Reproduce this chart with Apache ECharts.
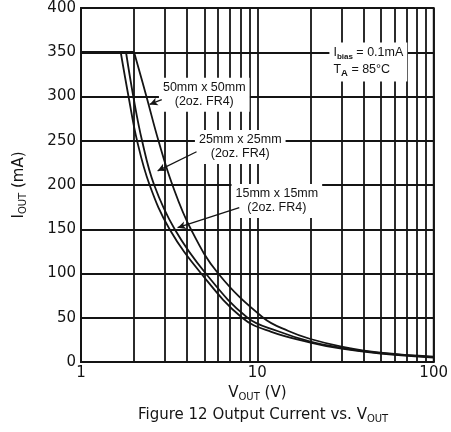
<!DOCTYPE html>
<html>
<head>
<meta charset="utf-8">
<script src="https://cdn.jsdelivr.net/npm/echarts@6/dist/echarts.min.js"></script>
<style>
  html, body { margin: 0; padding: 0; background: #fff; }
  #chart { width: 451px; height: 432px; }
</style>
</head>
<body>
<div id="chart"></div>
<script>
// Output current (mA) against output voltage (V) for three copper board sizes
const currentLimit = [[1, 350], [2.0, 350]];
const board15 = [[1.68, 350], [1.86, 300], [2.08, 250], [2.45, 200], [3.18, 150], [4.8, 100], [8.2, 50], [12, 34], [20, 22], [30, 15], [50, 9.5], [100, 5]];
const board25 = [[1.8, 350], [1.98, 300], [2.22, 250], [2.6, 200], [3.4, 150], [5.1, 100], [8.8, 50], [13, 35], [20, 23], [30, 16], [50, 10], [100, 5.5]];
const board50 = [[2.0, 350], [2.35, 300], [2.75, 250], [3.3, 200], [4.2, 150], [6.0, 100], [10.8, 50], [15, 35], [20, 26], [30, 17.5], [50, 10.5], [100, 6]];

// Axis ranges and the intermediate decade lines of the log grid
const xRange = [1, 100];
const yRange = [0, 400];
const yStep = 50;
const xMinorLines = [2, 3, 4, 5, 6, 7, 8, 9, 20, 30, 40, 50, 60, 70, 80, 90];

// Callout text anchors [V, mA] and their arrows [from, to]
const notes = [
  { at: [5.0, 302], text: '{t|50mm x 50mm}\n{t|(2oz. FR4)}', arrow: [[2.87, 296.5], [2.45, 291]] },
  { at: [8.0, 243], text: '{t|25mm x 25mm}\n{t|(2oz. FR4)}', arrow: [[4.52, 237.6], [2.72, 216]] },
  { at: [12.9, 182], text: '{t|15mm x 15mm}\n{t|(2oz. FR4)}', arrow: [[7.9, 174.4], [3.53, 151.8]] }
];
const conditions = { at: [27, 339], text: '{t|I}{sb|bias}{t| = 0.1mA}\n{t|T}{sa|A}{t| = 85°C}' };

const ink = '#141414';
const tickFont = 'DejaVu Sans';
const noteFont = 'Liberation Sans';
const gridWidth = 1.8;

const noteRich = {
  t: { fontFamily: noteFont, fontSize: 12.5, color: ink, lineHeight: 14 },
  sb: { fontFamily: noteFont, fontSize: 8, fontWeight: 'bold', color: ink, padding: [7, 0, 0, 0] },
  sa: { fontFamily: noteFont, fontSize: 9.5, fontWeight: 'bold', color: ink, padding: [8, 0, 0, 0] }
};
const subRich = {
  m: { fontFamily: tickFont, fontSize: 15, fontWeight: 'normal', color: ink },
  s: { fontFamily: tickFont, fontSize: 10, fontWeight: 'normal', color: ink, padding: [8, 0, 0, 0] }
};

function curve(name, data) {
  return {
    name: name,
    type: 'line',
    data: data,
    smooth: 0.4,
    showSymbol: false,
    symbol: 'none',
    z: 4,
    lineStyle: { color: ink, width: 1.8 }
  };
}

const chart = echarts.init(document.getElementById('chart'), null, { renderer: 'canvas' });

chart.setOption({
  animation: false,
  backgroundColor: '#fff',
  grid: { left: 81, right: 16, top: 8, bottom: 70, show: true, borderColor: ink, borderWidth: gridWidth, backgroundColor: 'transparent' },
  title: {
    left: 133,
    top: 401,
    text: '{m|Figure 12 Output Current vs. V}{s|OUT}',
    textStyle: { fontWeight: 'normal', rich: subRich }
  },
  xAxis: {
    type: 'log',
    logBase: 10,
    min: xRange[0],
    max: xRange[1],
    name: '{m|V}{s|OUT}{m| (V)}',
    nameLocation: 'middle',
    nameGap: 20,
    nameTextStyle: { rich: subRich },
    axisLine: { show: true, lineStyle: { color: ink, width: gridWidth } },
    axisTick: { show: false },
    axisLabel: { margin: 4, fontFamily: tickFont, fontSize: 15, color: ink },
    splitLine: { show: true, lineStyle: { color: ink, width: gridWidth } },
    minorTick: { show: false },
    minorSplitLine: { show: false }
  },
  yAxis: {
    type: 'value',
    min: yRange[0],
    max: yRange[1],
    interval: yStep,
    name: '{m|I}{s|OUT}{m| (mA)}',
    nameLocation: 'middle',
    nameGap: 53,
    nameRotate: 90,
    nameTextStyle: { rich: subRich },
    axisLine: { show: true, lineStyle: { color: ink, width: gridWidth } },
    axisTick: { show: false },
    axisLabel: { margin: 5, fontFamily: tickFont, fontSize: 15, color: ink },
    splitLine: { show: true, lineStyle: { color: ink, width: gridWidth } }
  },
  series: [
    {
      // intermediate vertical grid lines of the log axis
      type: 'line',
      data: [],
      silent: true,
      z: 1,
      markLine: {
        silent: true,
        z: 1,
        symbol: ['none', 'none'],
        label: { show: false },
        lineStyle: { color: ink, width: gridWidth, type: 'solid' },
        data: xMinorLines.map(v => ({ xAxis: v }))
      }
    },
    {
      // callout text boxes over the grid
      type: 'line',
      data: [],
      silent: true,
      z: 3,
      markPoint: {
        silent: true,
        z: 3,
        symbol: 'rect',
        symbolSize: 1,
        itemStyle: { color: 'rgba(0,0,0,0)' },
        label: { show: true, position: 'inside', backgroundColor: '#fff', padding: [3, 4], rich: noteRich },
        data: notes.map(n => ({ coord: n.at, label: { formatter: n.text, align: 'center' } })).concat([
          { coord: conditions.at, label: { formatter: conditions.text, align: 'left', offset: [-4, 0], padding: [3, 4, 3, 4] } }
        ])
      }
    },
    {
      // shared current limit before the thermal roll-off
      type: 'line',
      data: currentLimit,
      showSymbol: false,
      symbol: 'none',
      z: 4,
      lineStyle: { color: ink, width: 2.4 }
    },
    Object.assign(curve('15mm x 15mm', board15), {
      markLine: {
        silent: true,
        z: 4,
        symbol: ['none', 'arrow'],
        symbolSize: [6, 8],
        label: { show: false },
        lineStyle: { color: ink, width: 1.3, type: 'solid' },
        data: notes.map(n => [{ coord: n.arrow[0] }, { coord: n.arrow[1] }])
      }
    }),
    curve('25mm x 25mm', board25),
    curve('50mm x 50mm', board50)
  ]
});
</script>
</body>
</html>
